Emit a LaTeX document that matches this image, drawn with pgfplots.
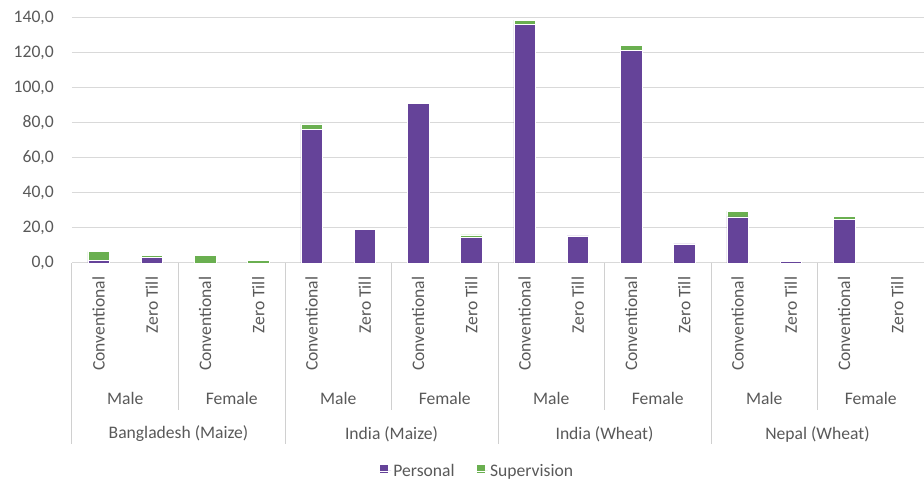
\documentclass[border=0pt]{standalone}
\usepackage{pgfplots}
\usepackage{pgfplotstable}
\pgfplotsset{compat=1.18}
\usepackage{fontspec}
\setmainfont{Carlito}
\definecolor{cpurple}{HTML}{654399}
\definecolor{cgreen}{HTML}{6AAF50}
\definecolor{ctext}{HTML}{595959}
\definecolor{cgrid}{HTML}{D9D9D9}
\definecolor{csep}{HTML}{D0D0D0}

\pgfplotstableread{
x personal supervision
0 1.5 5.0
1 3.0 1.2
2 0 4.3
3 0 1.5
4 76.5 3.0
5 19.0 0.8
6 91.0 0
7 14.5 1.5
8 136.5 2.3
9 15.5 0
10 121.3 3.0
11 10.9 0
12 26.3 3.4
13 0.8 0
14 25.1 1.4
15 0 0
}\datatable

\begin{document}
\begin{tikzpicture}[font=\fontsize{17.6}{21}\selectfont]
\useasboundingbox (0,0) rectangle (924pt,481pt);
\begin{axis}[
  at={(72pt,218pt)}, anchor=south west,
  scale only axis, width=852pt, height=245pt,
  xmin=-0.5, xmax=15.5, ymin=0, ymax=140,
  ybar stacked, bar width=0.4,
  clip=false,
  axis line style={draw=none},
  ymajorgrids, grid style={cgrid, line width=1pt},
  major tick length=0pt,
  ytick={0,20,...,140},
  yticklabel style={/pgf/number format/.cd, fixed, fixed zerofill, precision=1, use comma, assume math mode=true, /tikz/.cd, anchor=east, inner sep=0pt, xshift=-18pt, text=ctext},
  xtick={0,...,15},
  xticklabels={Conventional,Zero Till,Conventional,Zero Till,Conventional,Zero Till,Conventional,Zero Till,Conventional,Zero Till,Conventional,Zero Till,Conventional,Zero Till,Conventional,Zero Till},
  xticklabel style={rotate=90, anchor=east, inner sep=0pt, text=ctext},
  xticklabel shift=13.7pt,
  legend style={at={(0.476,-0.848)}, anchor=center, draw=none, fill=none, legend columns=2, text=ctext,
    /tikz/every even column/.append style={column sep=20pt}},
  legend image code/.code={\fill[#1, draw=none] (0pt,-2pt) rectangle (8pt,6pt); \path (0pt,0pt) -- (11pt,0pt);},
]
\addplot[fill=cpurple, draw=white, line width=0.5pt] table[x=x, y=personal] {\datatable};
\addlegendentry{Personal}
\addplot[fill=cgreen, draw=white, line width=0.5pt] table[x=x, y=supervision] {\datatable};
\addlegendentry{Supervision}

% separators
\draw[csep, line width=1pt] (axis cs:-0.5,0) -- ([yshift=-181pt]axis cs:-0.5,0);
\draw[csep, line width=1pt] (axis cs:3.5,0) -- ([yshift=-181pt]axis cs:3.5,0);
\draw[csep, line width=1pt] (axis cs:7.5,0) -- ([yshift=-181pt]axis cs:7.5,0);
\draw[csep, line width=1pt] (axis cs:11.5,0) -- ([yshift=-181pt]axis cs:11.5,0);
\draw[csep, line width=1pt] (axis cs:1.5,0) -- ([yshift=-147pt]axis cs:1.5,0);
\draw[csep, line width=1pt] (axis cs:5.5,0) -- ([yshift=-147pt]axis cs:5.5,0);
\draw[csep, line width=1pt] (axis cs:9.5,0) -- ([yshift=-147pt]axis cs:9.5,0);
\draw[csep, line width=1pt] (axis cs:13.5,0) -- ([yshift=-147pt]axis cs:13.5,0);

% gender labels
\node[text=ctext] at ([yshift=-135pt]axis cs:0.5,0) {Male};
\node[text=ctext] at ([yshift=-135pt]axis cs:2.5,0) {Female};
\node[text=ctext] at ([yshift=-135pt]axis cs:4.5,0) {Male};
\node[text=ctext] at ([yshift=-135pt]axis cs:6.5,0) {Female};
\node[text=ctext] at ([yshift=-135pt]axis cs:8.5,0) {Male};
\node[text=ctext] at ([yshift=-135pt]axis cs:10.5,0) {Female};
\node[text=ctext] at ([yshift=-135pt]axis cs:12.5,0) {Male};
\node[text=ctext] at ([yshift=-135pt]axis cs:14.5,0) {Female};

% country labels
\node[text=ctext] at ([yshift=-171pt]axis cs:1.5,0) {Bangladesh (Maize)};
\node[text=ctext] at ([yshift=-171pt]axis cs:5.5,0) {India (Maize)};
\node[text=ctext] at ([yshift=-171pt]axis cs:9.5,0) {India (Wheat)};
\node[text=ctext] at ([yshift=-171pt]axis cs:13.5,0) {Nepal (Wheat)};
\end{axis}
\end{tikzpicture}
\end{document}
